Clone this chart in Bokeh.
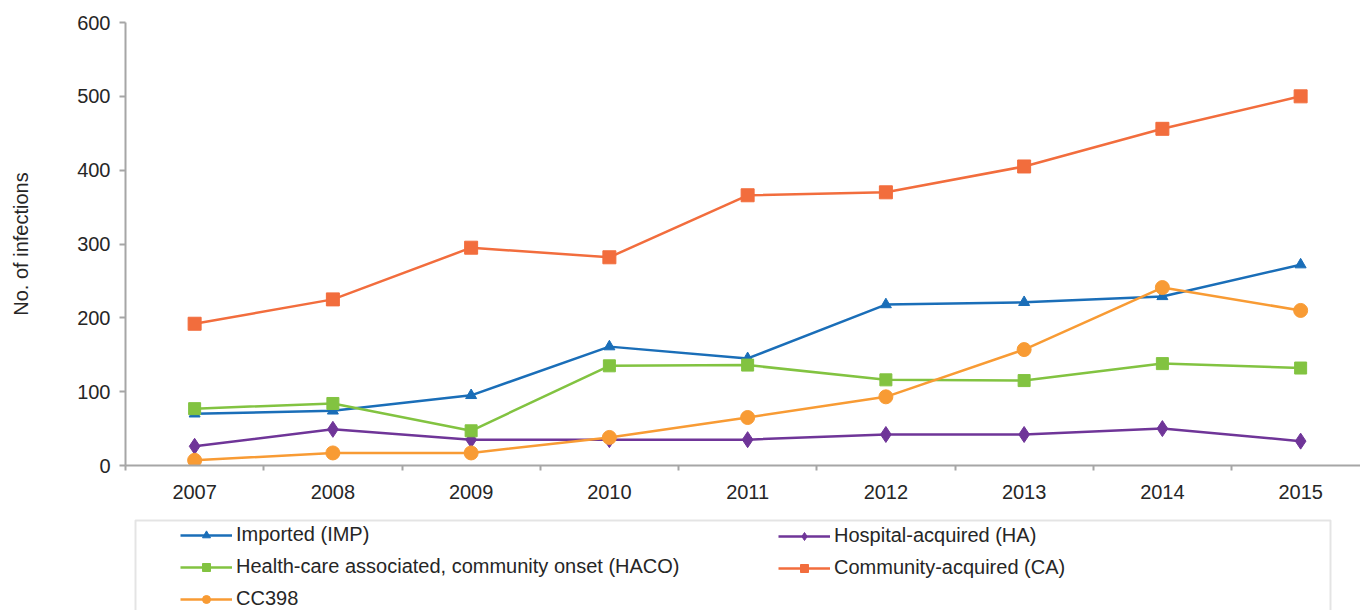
from bokeh.plotting import figure
from bokeh.layouts import column
from bokeh.models import (Legend, LegendItem, FixedTicker, Range1d, BoxAnnotation)
from bokeh.embed import file_html
from bokeh.resources import INLINE

years = [2007, 2008, 2009, 2010, 2011, 2012, 2013, 2014, 2015]
imported = [70, 74, 95, 161, 145, 218, 221, 229, 272]
hospital = [26, 49, 35, 35, 35, 42, 42, 50, 33]
haco = [77, 84, 47, 135, 136, 116, 115, 138, 132]
community = [192, 225, 295, 282, 366, 370, 405, 456, 500]
cc398 = [7, 17, 17, 38, 65, 93, 157, 241, 210]
y_ticks = [0, 100, 200, 300, 400, 500, 600]

FONT = "Liberation Sans"
AXIS_GREY = "#a6a6a6"
TEXT = "#262626"

p = figure(width=1360, height=505, output_backend="svg", toolbar_location=None,
           x_range=Range1d(2006.5, 2015.433), y_range=Range1d(0, 600),
           min_border_left=125, min_border_right=0, min_border_top=22,
           min_border_bottom=40)
p.outline_line_color = None
p.xgrid.grid_line_color = None
p.ygrid.grid_line_color = None

# axes
p.xaxis.ticker = FixedTicker(ticks=years, minor_ticks=[y + 0.5 for y in [2006] + years])
p.xaxis.major_tick_line_color = None
p.xaxis.major_tick_out = 5
p.xaxis.major_tick_in = 0
p.xaxis.minor_tick_line_color = AXIS_GREY
p.xaxis.minor_tick_line_width = 2
p.xaxis.minor_tick_out = 5
p.xaxis.minor_tick_in = 0
p.xaxis.major_label_standoff = 14
p.yaxis.ticker = FixedTicker(ticks=y_ticks)
p.yaxis.minor_tick_line_color = None
p.yaxis.major_tick_out = 6
p.yaxis.major_tick_in = 0
p.yaxis.major_tick_line_color = AXIS_GREY
p.yaxis.major_tick_line_width = 2
p.yaxis.major_label_standoff = 9
p.yaxis.axis_label = "No. of infections"
p.yaxis.axis_label_standoff = 42
p.yaxis.axis_label_text_font = FONT
p.yaxis.axis_label_text_font_size = "20px"
p.yaxis.axis_label_text_font_style = "normal"
p.yaxis.axis_label_text_color = TEXT
for ax in (p.xaxis, p.yaxis):
    ax.axis_line_color = AXIS_GREY
    ax.axis_line_width = 2
    ax.major_label_text_font = FONT
    ax.major_label_text_font_size = "20px"
    ax.major_label_text_color = TEXT

series = [
    ("Imported (IMP)", imported, "#1a6eb8", "triangle", 11),
    ("Hospital-acquired (HA)", hospital, "#6f3598", "diamond", 16),
    ("Health-care associated, community onset (HACO)", haco, "#82c341", "square", 12),
    ("Community-acquired (CA)", community, "#f26d3d", "square", 13),
    ("CC398", cc398, "#f89b34", "circle", 14),
]

# legend panel: a second figure below, same frame width; the box is an annotation
lp = figure(width=1360, height=107, output_backend="svg", toolbar_location=None,
            x_range=Range1d(0, 1235), y_range=Range1d(-107, 0),
            x_axis_type=None, y_axis_type=None,
            min_border_left=125, min_border_right=0, min_border_top=0,
            min_border_bottom=0)
lp.xgrid.grid_line_color = None
lp.ygrid.grid_line_color = None
lp.outline_line_color = None

box = BoxAnnotation(left=10, right=1205, top=-15, bottom=-130,
                    fill_alpha=0, line_color=AXIS_GREY, line_width=2)
lp.add_layout(box)

items = {}
for name, vals, col, marker, size in series:
    p.line(years, vals, line_color=col, line_width=2.5)
    p.scatter(years, vals, marker=marker, size=size, fill_color=col, line_color=col)
    # same series in the legend panel (outside its visible range) for legend glyphs
    ln = lp.line(years, vals, line_color=col, line_width=2.5)
    sc = lp.scatter(years, vals, marker=marker, size=size, fill_color=col, line_color=col)
    items[name] = LegendItem(label=name, renderers=[ln, sc])

def make_legend(names, loc):
    lg = Legend(items=[items[n] for n in names], location=loc,
                orientation="vertical", border_line_color=None,
                background_fill_alpha=0, padding=0, margin=0, spacing=9,
                glyph_width=52, glyph_height=20, label_height=20,
                label_standoff=4, label_text_font=FONT,
                label_text_font_size="20px", label_text_color=TEXT)
    lp.add_layout(lg, "center")
    return lg

make_legend(["Imported (IMP)", "Health-care associated, community onset (HACO)", "CC398"], (55, 2))
make_legend(["Hospital-acquired (HA)", "Community-acquired (CA)"], (653, 33))

layout = column(p, lp, spacing=0)
open("out.html", "w").write(file_html(layout, INLINE))
